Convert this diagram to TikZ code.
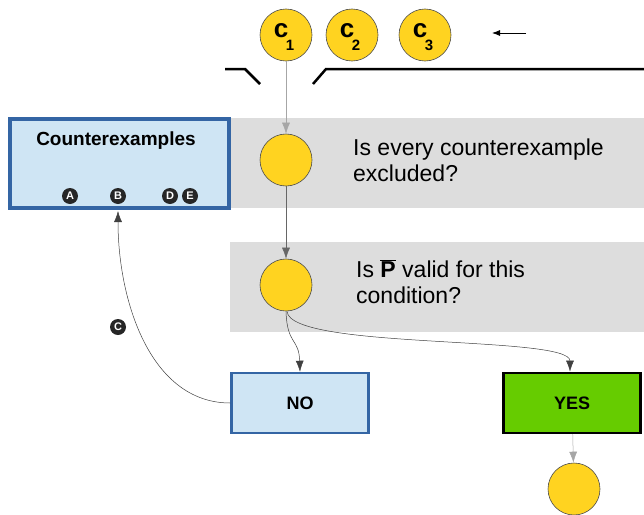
\documentclass[tikz,border=0pt]{standalone}
\usepackage{fontspec}
\setmainfont{Liberation Sans}
\usetikzlibrary{arrows.meta}
\definecolor{ylw}{HTML}{FFD320}
\definecolor{bord}{HTML}{3465A4}
\definecolor{lblue}{HTML}{CFE5F4}
\definecolor{band}{HTML}{DDDDDD}
\definecolor{grn}{HTML}{66CC00}
\tikzset{
  ball/.style={circle, draw=black!70, line width=0.6pt, fill=ylw, minimum size=52pt, inner sep=0pt},
  badge/.style={circle, fill=black!85, text=white, font=\bfseries\fontsize{11}{11}\selectfont, minimum size=16pt, inner sep=0pt},
  bluebox/.style={draw=bord, fill=lblue, line width=2.5pt},
  arr/.style={-{Latex[length=11pt,width=8pt]}, line width=0.5pt},
  qtext/.style={anchor=base west, align=left, inner sep=0pt, font=\fontsize{23}{26}\selectfont},
  lbl/.style={font=\bfseries\fontsize{18}{18}\selectfont},
  clbl/.style={font=\bfseries\fontsize{26}{26}\selectfont},
  sublbl/.style={font=\bfseries\fontsize{15}{15}\selectfont},
}
\begin{document}
\begin{tikzpicture}[x=1pt,y=-1pt]
\useasboundingbox (0,0) rectangle (644,514);
% bands
\fill[band] (230,118) rectangle (644,208);
\fill[band] (230,242) rectangle (644,332);
% counterexamples box
\draw[draw=bord, fill=lblue, line width=4pt] (10,119) rectangle (229,208);
\node[font=\bfseries\fontsize{19}{19}\selectfont] (ce) at (116,141) {Counterexamples};
\node[badge] (bA) at (70,196) {A};
\node[badge] (bB) at (118,196) {B};
\node[badge] (bD) at (170,196) {D};
\node[badge] (bE) at (190,196) {E};
\coordinate (ceB) at (118,211);
% top circles
\node[ball] (c1) at (286,35) {};
\node[ball] (c2) at (352,35) {};
\node[ball] (c3) at (425,35) {};
\node[clbl] at (281,31) {c};
\node[sublbl] at (290,45) {1};
\node[clbl] at (347,31) {c};
\node[sublbl] at (356,45) {2};
\node[clbl] at (420,31) {c};
\node[sublbl] at (429,45) {3};
\coordinate (aS) at (526,33);
\coordinate (aE) at (492,33);
\draw[-{Latex[length=8pt,width=6pt]}, line width=0.8pt] (aS) -- (aE);
% funnel lines
\draw[line width=2.5pt] (225,69) -- (245,69) -- (260,84);
\draw[line width=2.5pt] (313,84) -- (326,69) -- (644,69);
% question circles
\node[ball] (q1) at (286,160) {};
\node[ball] (q2) at (286,285) {};
\node[qtext] (t1) at (353,181) {Is every counterexample\\excluded?};
\node[qtext] (t2) at (356,303) {Is $\overline{\mbox{\textbf{P}}}$ valid for this\\condition?};
% NO / YES
\node[bluebox, minimum width=137pt, minimum height=60pt, lbl] (no) at (300,403) {NO};
\node[draw=black, fill=grn, line width=2.8pt, minimum width=137pt, minimum height=60pt, lbl] (yes) at (572,403) {YES};
\node[ball] (fin) at (574,489) {};
% connectors
\draw[arr, draw=black!35] (c1) -- (q1);
\draw[arr, draw=black!60] (q1) -- (q2);
\draw[arr, draw=black!75] (q2.south) .. controls (287,345) and (299,338) .. (no.north);
\draw[arr, draw=black!75] ([xshift=1pt]q2.south) .. controls (290,350) and (570,335) .. ([xshift=-2pt]yes.north);
\draw[arr, draw=black!35] (yes) -- (fin);
\draw[arr, draw=black!75] (no.west) .. controls (150,403) and (118,300) .. (ceB);
\node[badge] (bC) at (118,327) {C};
\end{tikzpicture}
\end{document}
